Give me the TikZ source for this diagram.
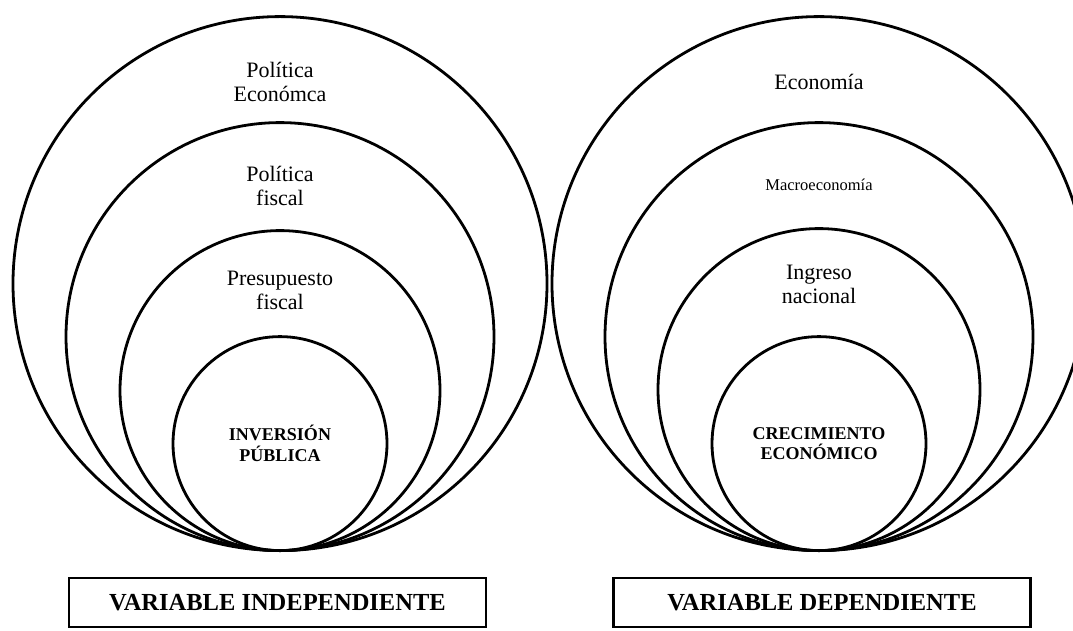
\documentclass[tikz,border=0pt]{standalone}
\usepackage{fontspec}
\setmainfont{Liberation Serif}
\usetikzlibrary{positioning}

\begin{document}
\begin{tikzpicture}[x=1pt, y=1pt,
  ring node/.style={circle, draw, line width=2.8pt, inner sep=0pt},
  word node/.style={align=center, inner sep=0pt, font=\fontsize{22}{24}\selectfont},
  core node/.style={ring node, align=center, font=\bfseries\fontsize{18}{20.5}\selectfont},
  var node/.style={draw, line width=2.6pt, minimum width=417pt, minimum height=49pt,
    font=\bfseries\fontsize{24.5}{28}\selectfont}]

  \useasboundingbox (0,0) rectangle (1073,630);

  \coordinate (lbase) at (280,78);
  \coordinate (rbase) at (819,78);

  % independent variable
  \node[ring node, minimum size=534pt, anchor=south] (peco) at (lbase) {};
  \node[ring node, minimum size=428pt, anchor=south] (pfis) at (lbase) {};
  \node[ring node, minimum size=320pt, anchor=south] (pres) at (lbase) {};
  \node[core node, minimum size=214pt, anchor=south] (inv) at (lbase) {INVERSIÓN\\PÚBLICA};

  \node[word node, below=47pt of peco.north] (tpeco) {Política\\Económca};
  \node[word node, below=45pt of pfis.north] (tpfis) {Política\\fiscal};
  \node[word node, below=41.5pt of pres.north] (tpres) {Presupuesto\\fiscal};

  % dependent variable
  \node[ring node, minimum size=534pt, anchor=south] (eco) at (rbase) {};
  \node[ring node, minimum size=428pt, anchor=south] (mac) at (rbase) {};
  \node[ring node, minimum size=322pt, anchor=south] (ing) at (rbase) {};
  \node[core node, minimum size=214pt, anchor=south] (cre) at (rbase) {CRECIMIENTO\\ECONÓMICO};

  \node[word node, below=59pt of eco.north] (teco) {Economía};
  \node[word node, below=58pt of mac.north, font=\fontsize{16.5}{19}\selectfont] (tmac) {Macroeconomía};
  \node[word node, below=37.5pt of ing.north] (ting) {Ingreso\\nacional};

  % captions
  \node[var node, below=24.5pt of peco.south, xshift=-2.5pt] (vind) {VARIABLE INDEPENDIENTE};
  \node[var node, below=24.5pt of eco.south, xshift=3pt] (vdep) {VARIABLE DEPENDIENTE};
\end{tikzpicture}
\end{document}
